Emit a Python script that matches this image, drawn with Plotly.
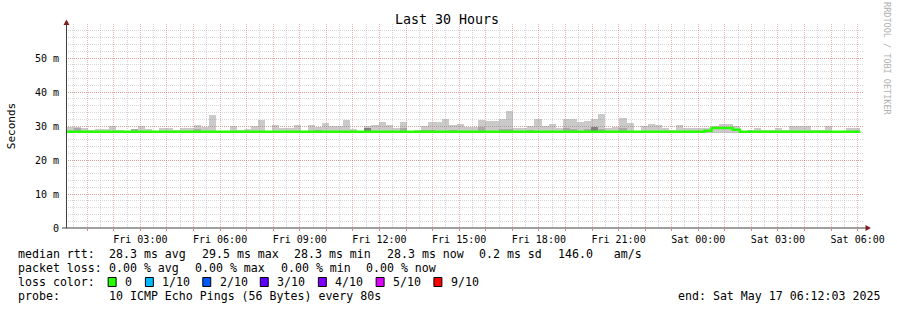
import plotly.graph_objects as go
import pandas as pd

# ---------------- data ----------------
start_time = "2025-05-16 00:12:03"
end_time = "2025-05-17 06:12:03"
first_bin = "2025-05-16 00:14:00"
step = "16min"

# top of the smoke (ms) per 16-minute bin
smoke_top = [29.6, 29.6, 29.4, 28.8, 29.1, 29.1, 30.0, 28.8, 28.5, 29.1,
             30.0, 29.1, 28.6, 29.4, 29.4, 28.8, 29.4, 29.4, 30.3, 29.8,
             33.2, 28.5, 28.5, 30.0, 28.8, 29.1, 30.0, 31.8, 28.5, 30.3,
             29.4, 29.4, 30.3, 28.5, 30.3, 29.8, 31.0, 30.0, 30.0, 31.8,
             29.1, 28.5, 30.0, 30.3, 31.2, 30.3, 29.4, 31.2, 28.6, 28.9,
             30.0, 31.2, 31.2, 32.1, 30.3, 30.6, 29.7, 29.7, 31.8, 31.5,
             31.5, 32.1, 34.4, 29.4, 29.4, 30.0, 32.1, 30.0, 30.6, 29.4,
             32.1, 32.1, 31.2, 31.5, 32.1, 33.5, 29.4, 29.7, 32.4, 30.9,
             28.6, 30.0, 30.6, 30.3, 29.4, 28.8, 30.3, 29.4, 29.4, 29.4,
             29.4, 30.0, 30.6, 30.6, 30.0, 28.6, 28.8, 29.4, 28.8, 28.8,
             29.4, 28.8, 30.0, 30.0, 30.0, 28.8, 28.8, 30.0, 28.6, 28.6,
             29.4, 29.4]
# darker inner smoke (ms), None where absent
smoke_mid = [None, 29.3, None, None, None, None, None, None, None, 29.1,
             None, None, None, None, None, None, None, None, 29.1, None,
             None, None, None, None, None, None, None, None, None, None,
             None, None, None, None, None, 28.8, None, None, None, None,
             None, None, 29.4, None, None, None, None, 29.4, None, None,
             28.8, 28.8, None, None, 28.8, None, None, None, 29.7, None,
             None, 29.1, 29.1, None, None, 28.8, None, None, None, None,
             29.4, 29.1, None, 29.1, 29.7, 29.1, None, None, 29.4, None,
             None, None, None, None, None, None, None, None, None, None,
             None, None, None, None, None, None, None, None, None, None,
             None, None, None, None, None, None, None, None, None, None,
             None, None]
smoke_dark = [None] * 42 + [29.4] + [None] * 31 + [29.7] + [None] * 37
smoke_base = 28.0

median_rtt = [28.3] * 90 + [28.6, 29.4, 29.4, 29.4, 28.9] + [28.3] * 17

y_tick_vals = [0, 10, 20, 30, 40, 50]
y_tick_text = ["0", "10 m", "20 m", "30 m", "40 m", "50 m"]

loss_labels = ["0", "1/10", "2/10", "3/10", "4/10", "5/10", "9/10"]
loss_colors = ["#26ff00", "#00b8ff", "#0059ff", "#5e00ff", "#7e00ff", "#dd00ff", "#ff0000"]

# ---------------- geometry helpers ----------------
W, H = 897, 310
L, R, T, B = 66, 31, 24, 82
PW, PH = W - L - R, H - T - B


def px(x):
    return (x - L) / PW


def py(y):
    return (H - B - y) / PH


MONO = "DejaVu Sans Mono"

times = pd.date_range(first_bin, periods=len(smoke_top), freq=step)
bin_ms = pd.Timedelta(step).total_seconds() * 1000

fig = go.Figure()

fig.add_trace(go.Bar(
    x=times, y=[t - smoke_base for t in smoke_top], base=smoke_base,
    width=bin_ms, offset=0, marker=dict(color="rgba(150,150,150,0.5)", line_width=0),
    hoverinfo="skip", showlegend=False))
fig.add_trace(go.Bar(
    x=times, y=[(t - smoke_base) if t is not None else None for t in smoke_mid], base=smoke_base,
    width=bin_ms, offset=0, marker=dict(color="rgba(110,110,110,0.35)", line_width=0),
    hoverinfo="skip", showlegend=False))
fig.add_trace(go.Bar(
    x=times, y=[(t - smoke_base) if t is not None else None for t in smoke_dark], base=smoke_base,
    width=bin_ms, offset=0, marker=dict(color="rgba(80,80,80,0.45)", line_width=0),
    hoverinfo="skip", showlegend=False))

med_x = list(times) + [times[-1] + pd.Timedelta(step)]
med_y = median_rtt + [median_rtt[-1]]
fig.add_trace(go.Scatter(
    x=med_x, y=med_y, mode="lines", line=dict(color="#26ff00", width=2.5, shape="hv"),
    hoverinfo="skip", showlegend=False))

# x ticks
hours = pd.date_range("2025-05-16 01:00", "2025-05-17 06:00", freq="1h")
xt_text = [h.strftime("%a %H:%M") if h.hour % 3 == 0 else "" for h in hours]
halfs = pd.date_range("2025-05-16 00:30", "2025-05-17 05:30", freq="1h")

major_grid = "rgba(222,79,79,0.42)"
minor_grid = "rgba(143,143,143,0.36)"

fig.update_layout(
    width=W, height=H, margin=dict(l=L, r=R, t=T, b=B, pad=0),
    paper_bgcolor="white", plot_bgcolor="white",
    barmode="overlay", bargap=0,
    font=dict(family=MONO, size=10, color="#000"),
    xaxis=dict(
        range=[pd.Timestamp(start_time), pd.Timestamp(end_time)],
        tickmode="array", tickvals=hours, ticktext=xt_text,
        showgrid=True, gridcolor=major_grid, griddash="1px,1px", gridwidth=1,
        ticks="outside", ticklen=2, tickcolor="rgba(222,79,79,0.7)",
        tickfont=dict(family=MONO, size=10, color="#000"),
        showline=False, zeroline=False,
        minor=dict(tickmode="array", tickvals=halfs, showgrid=True, gridcolor=minor_grid,
                   griddash="1px,1px", gridwidth=1, ticks=""),
    ),
    yaxis=dict(
        range=[0, 60], tickmode="array", tickvals=y_tick_vals, ticktext=y_tick_text,
        showgrid=True, gridcolor=major_grid, griddash="1px,1px", gridwidth=1,
        ticks="outside", ticklen=4, tickcolor="rgba(0,0,0,0)",
        tickfont=dict(family=MONO, size=10, color="#000"),
        showline=False, zeroline=False,
        minor=dict(tickmode="linear", tick0=0, dtick=2, showgrid=True, gridcolor=minor_grid,
                   griddash="1px,1px", gridwidth=1, ticks=""),
    ),
)

shapes = []
axis_col = "#404040"
arrow_col = "#801f1f"
# y axis line
shapes.append(dict(type="line", xref="paper", yref="paper", x0=px(66.5), x1=px(66.5),
                   y0=py(228), y1=py(23), line=dict(color=axis_col, width=1)))
# x axis line
shapes.append(dict(type="line", xref="paper", yref="paper", x0=px(62), x1=px(870),
                   y0=py(228), y1=py(228), line=dict(color=axis_col, width=1)))
# arrows
shapes.append(dict(type="path", xref="paper", yref="paper",
                   path=f"M {px(66.5)} {py(19.5)} L {px(63.5)} {py(25)} L {px(69.5)} {py(25)} Z",
                   fillcolor=arrow_col, line=dict(width=0)))
shapes.append(dict(type="path", xref="paper", yref="paper",
                   path=f"M {px(874)} {py(228)} L {px(868.5)} {py(225)} L {px(868.5)} {py(231)} Z",
                   fillcolor=arrow_col, line=dict(width=0)))

annotations = []


def txt(x, y, s, size=11.6, anchor="left", color="#000", angle=0):
    annotations.append(dict(xref="paper", yref="paper", x=px(x), y=py(y), text=s.replace(" ", "\u00a0"),
                            showarrow=False, xanchor=anchor, yanchor="middle", textangle=angle,
                            font=dict(family=MONO, size=size, color=color)))


txt(448, 19, "Last 30 Hours", size=13.3, anchor="center")
txt(11, 126, "Seconds", size=11, anchor="center", angle=-90)
txt(890, 59, "RRDTOOL / TOBI OETIKER", size=8.5, anchor="center", color="#b0b0b0", angle=90)

r1, r2, r3, r4 = 254, 268, 282, 296
txt(16, r1, "median rtt:")
for x, s in [(107.3, "28.3 ms avg"), (200.3, "29.5 ms max"), (293.3, "28.3 ms min"),
             (386.7, "28.3 ms now"), (479, "0.2 ms sd"), (558.3, "146.0   am/s")]:
    txt(x, r1, s)
txt(16, r2, "packet loss:")
for x, s in [(107.3, "0.00 % avg"), (193.3, "0.00 % max"), (279.3, "0.00 % min"), (365.3, "0.00 % now")]:
    txt(x, r2, s)
txt(16, r3, "loss color:")
sq_x = [108.3, 145.7, 203.3, 261, 319.3, 377.3, 435.3]
lab_x = [123.3, 160, 218.3, 276, 334, 392, 450]
for c, lab, sx, lx in zip(loss_colors, loss_labels, sq_x, lab_x):
    shapes.append(dict(type="rect", xref="paper", yref="paper", x0=px(sx), x1=px(sx + 8),
                       y0=py(286.5), y1=py(277.5), fillcolor=c, line=dict(color="#000", width=1)))
    txt(lx, r3, lab)
txt(16, r4, "probe:")
txt(107.3, r4, "10 ICMP Echo Pings (56 Bytes) every 80s")
txt(678.3, r4, "end: Sat May 17 06:12:03 2025")

fig.update_layout(shapes=shapes, annotations=annotations)

fig.write_html("out.html")
